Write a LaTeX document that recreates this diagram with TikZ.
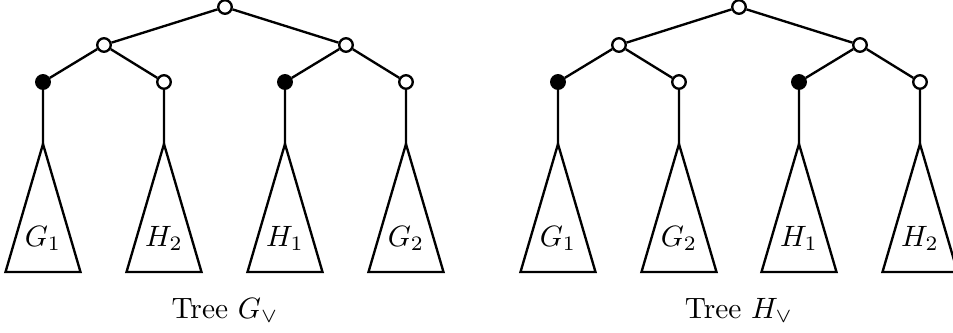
\documentclass[tikz,border=0pt]{standalone}
\begin{document}
\begin{tikzpicture}[x=0.34pt,y=-0.34pt,line width=0.8pt,
  vtx/.style={circle,draw,inner sep=0pt,minimum size=4.6pt},
  open/.style={vtx,fill=white},
  shut/.style={vtx,fill=black},
  lbl/.style={anchor=base,inner sep=0pt}]
\clip (0,0) rectangle (953,332);

% subtree triangle: apex name, x position, label
\newcommand\subtri[3]{%
  \coordinate (#1) at (#2,144);
  \draw (#1) -- ++(-37.5,128) -- ++(75,0) -- cycle;
  \node[lbl] (#1-txt) at (#2,246) {$#3$};}

% ---- left tree ----
\node[open] (gr) at (225,7) {};
\node[open] (ga) at (104,45) {};
\node[open] (gb) at (346,45) {};
\node[shut] (g1) at (43,82) {};
\node[open] (g2) at (164,82) {};
\node[shut] (g3) at (285,82) {};
\node[open] (g4) at (406,82) {};
\subtri{gt1}{43}{G_1}
\subtri{gt2}{164}{H_2}
\subtri{gt3}{285}{H_1}
\subtri{gt4}{406}{G_2}
\draw (gr) -- (ga) (gr) -- (gb)
      (ga) -- (g1) (ga) -- (g2)
      (gb) -- (g3) (gb) -- (g4)
      (g1) -- (gt1) (g2) -- (gt2) (g3) -- (gt3) (g4) -- (gt4);
\node[lbl] (gcap) at (225,318) {Tree $G_\vee$};

% ---- right tree ----
\node[open] (hr) at (739,7) {};
\node[open] (ha) at (619,45) {};
\node[open] (hb) at (860,45) {};
\node[shut] (h1) at (558,82) {};
\node[open] (h2) at (679,82) {};
\node[shut] (h3) at (799,82) {};
\node[open] (h4) at (920,82) {};
\subtri{ht1}{558}{G_1}
\subtri{ht2}{679}{G_2}
\subtri{ht3}{799}{H_1}
\subtri{ht4}{920}{H_2}
\draw (hr) -- (ha) (hr) -- (hb)
      (ha) -- (h1) (ha) -- (h2)
      (hb) -- (h3) (hb) -- (h4)
      (h1) -- (ht1) (h2) -- (ht2) (h3) -- (ht3) (h4) -- (ht4);
\node[lbl] (hcap) at (739,318) {Tree $H_\vee$};
\end{tikzpicture}
\end{document}
